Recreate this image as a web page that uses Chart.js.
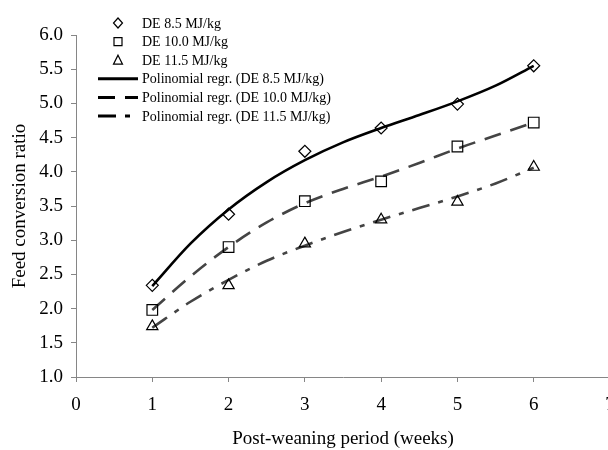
<!DOCTYPE html>
<html>
<head>
<meta charset="utf-8">
<script src="https://cdn.jsdelivr.net/npm/chart.js@4.4.1/dist/chart.umd.min.js"></script>
<style>
  html, body { margin: 0; padding: 0; background: #fff; overflow: hidden; }
  #wrap { width: 640px; height: 450px; }
</style>
</head>
<body>
<div id="wrap"><canvas id="fcrChart" width="640" height="450"></canvas></div>
<script>
// measured points
const weeks = [1, 2, 3, 4, 5, 6];
const de85 = [2.34, 3.38, 4.30, 4.64, 4.99, 5.55];
const de100 = [1.98, 2.90, 3.57, 3.86, 4.37, 4.72];
const de115 = [1.74, 2.34, 2.95, 3.30, 3.56, 4.07];

// polynomial trend lines
const trendWeeks = [1, 1.5, 2, 2.5, 3, 3.5, 4, 4.5, 5, 5.5, 6];
const trend85 = [2.33, 2.95, 3.45, 3.85, 4.17, 4.43, 4.64, 4.83, 5.03, 5.26, 5.55];
const trend100 = [1.98, 2.47, 2.90, 3.26, 3.54, 3.75, 3.93, 4.13, 4.34, 4.53, 4.72];
const trend115 = [1.72, 2.10, 2.42, 2.70, 2.92, 3.12, 3.30, 3.47, 3.64, 3.83, 4.06];

const labels = [
    'DE 8.5 MJ/kg',
    'DE 10.0 MJ/kg',
    'DE 11.5 MJ/kg',
    'Polinomial regr. (DE 8.5 MJ/kg)',
    'Polinomial regr. (DE 10.0 MJ/kg)',
    'Polinomial regr. (DE 11.5 MJ/kg)'
];

const serif = '"Liberation Serif", "Times New Roman", serif';
const axisGray = '#868686';

function pts(xs, ys) {
    return xs.map((x, i) => ({ x: x, y: ys[i] }));
}

function markerSet(label, ys, style, r) {
    return {
        label: label,
        data: pts(weeks, ys),
        showLine: false,
        pointStyle: style,
        pointRadius: r,
        pointHoverRadius: r,
        pointBorderColor: '#000',
        pointBackgroundColor: 'rgba(0,0,0,0)',
        pointBorderWidth: 1.2
    };
}

function trendSet(label, ys, color, dash) {
    return {
        label: label,
        data: pts(trendWeeks, ys),
        showLine: true,
        borderColor: color,
        borderWidth: 2.6,
        borderDash: dash,
        pointRadius: 0,
        fill: false,
        cubicInterpolationMode: 'monotone'
    };
}

// legend drawn as one column in the top left of the plot
const columnLegend = {
    id: 'columnLegend',
    afterDraw(chart) {
        const ctx = chart.ctx;
        const x0 = 98, x1 = 138, mx = 118, tx = 142;
        let y = 23;
        ctx.save();
        ctx.font = '14px ' + serif;
        ctx.textBaseline = 'middle';
        ctx.fillStyle = '#000';
        chart.data.datasets.forEach(ds => {
            ctx.strokeStyle = '#000';
            if (ds.showLine) {
                ctx.lineWidth = 3;
                ctx.setLineDash(ds.borderDash || []);
                ctx.beginPath();
                ctx.moveTo(x0, y);
                ctx.lineTo(x1, y);
                ctx.stroke();
                ctx.setLineDash([]);
            } else {
                ctx.lineWidth = 1.2;
                ctx.beginPath();
                if (ds.pointStyle === 'rectRot') {
                    ctx.moveTo(mx, y - 5);
                    ctx.lineTo(mx + 4.5, y);
                    ctx.lineTo(mx, y + 5);
                    ctx.lineTo(mx - 4.5, y);
                    ctx.closePath();
                } else if (ds.pointStyle === 'rect') {
                    ctx.rect(mx - 4, y - 4, 8, 8);
                } else {
                    ctx.moveTo(mx, y - 5);
                    ctx.lineTo(mx + 4.5, y + 4);
                    ctx.lineTo(mx - 4.5, y + 4);
                    ctx.closePath();
                }
                ctx.stroke();
            }
            ctx.fillText(ds.label, tx, y + 1);
            y += 18.6;
        });
        ctx.restore();
    }
};

const fcrChart = new Chart(document.getElementById('fcrChart'), {
    type: 'scatter',
    data: {
        datasets: [
            markerSet(labels[0], de85, 'rectRot', 6),
            markerSet(labels[1], de100, 'rect', 7.5),
            markerSet(labels[2], de115, 'triangle', 6.5),
            trendSet(labels[3], trend85, '#000', []),
            trendSet(labels[4], trend100, '#444', [17, 10]),
            trendSet(labels[5], trend115, '#444', [18, 9, 5, 9])
        ]
    },
    options: {
        responsive: false,
        animation: false,
        events: [],
        layout: { padding: { left: 0, right: 30, top: 35, bottom: 0 } },
        plugins: {
            legend: { display: false },
            tooltip: { enabled: false }
        },
        scales: {
            x: {
                type: 'linear',
                min: 0,
                max: 7,
                afterFit: s => { s.height = 73; },
                ticks: {
                    stepSize: 1,
                    color: '#000',
                    padding: 12,
                    font: { family: serif, size: 19 }
                },
                grid: {
                    display: true,
                    drawOnChartArea: false,
                    drawTicks: true,
                    tickLength: 5,
                    color: axisGray
                },
                border: { display: true, color: axisGray, width: 1 },
                title: {
                    display: true,
                    text: 'Post-weaning period (weeks)',
                    color: '#000',
                    font: { family: serif, size: 19 },
                    padding: { top: 0, bottom: 0 }
                }
            },
            y: {
                type: 'linear',
                min: 1,
                max: 6,
                afterFit: s => { s.width = 76; },
                ticks: {
                    stepSize: 0.5,
                    color: '#000',
                    padding: 8,
                    font: { family: serif, size: 19 },
                    callback: v => v.toFixed(1)
                },
                grid: {
                    display: true,
                    drawOnChartArea: false,
                    drawTicks: true,
                    tickLength: 5,
                    color: axisGray
                },
                border: { display: true, color: axisGray, width: 1 },
                title: {
                    display: true,
                    text: 'Feed conversion ratio',
                    color: '#000',
                    font: { family: serif, size: 19 },
                    padding: { top: 9, bottom: 0 }
                }
            }
        }
    },
    plugins: [columnLegend]
});
</script>
</body>
</html>
